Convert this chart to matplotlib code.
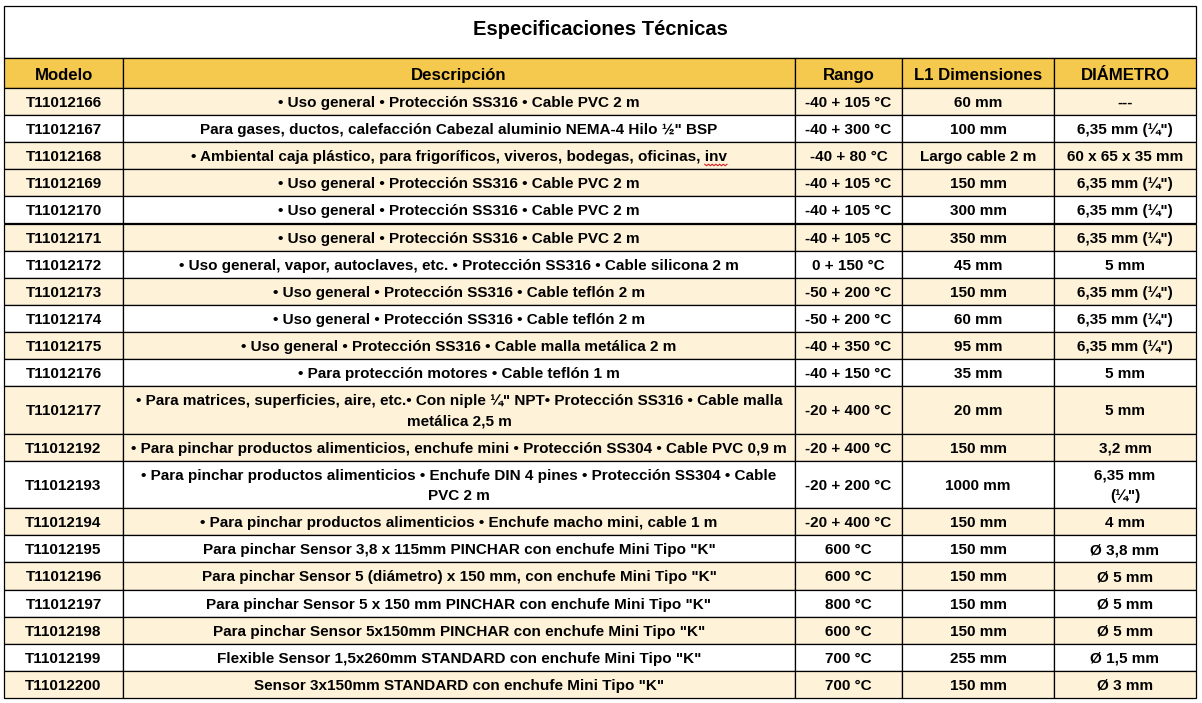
import matplotlib
matplotlib.use("Agg")
import matplotlib.pyplot as plt
from matplotlib.patches import Rectangle
import numpy as np

plt.rcParams['font.family'] = ['Liberation Sans', 'DejaVu Sans']

title = "Especificaciones Técnicas"
headers = ["Modelo", "Descripción", "Rango", "L1 Dimensiones", "DIÁMETRO"]

modelos = ["T11012166", "T11012167", "T11012168", "T11012169", "T11012170",
           "T11012171", "T11012172", "T11012173", "T11012174", "T11012175",
           "T11012176", "T11012177", "T11012192", "T11012193", "T11012194",
           "T11012195", "T11012196", "T11012197", "T11012198", "T11012199",
           "T11012200"]

descripciones = [
    "• Uso general • Protección SS316 • Cable PVC 2 m",
    "Para gases, ductos, calefacción Cabezal aluminio NEMA-4 Hilo ½\" BSP",
    "• Ambiental caja plástico, para frigoríficos, viveros, bodegas, oficinas, inv",
    "• Uso general • Protección SS316 • Cable PVC 2 m",
    "• Uso general • Protección SS316 • Cable PVC 2 m",
    "• Uso general • Protección SS316 • Cable PVC 2 m",
    "• Uso general, vapor, autoclaves, etc. • Protección SS316 • Cable silicona 2 m",
    "• Uso general • Protección SS316 • Cable teflón 2 m",
    "• Uso general • Protección SS316 • Cable teflón 2 m",
    "• Uso general • Protección SS316 • Cable malla metálica 2 m",
    "• Para protección motores • Cable teflón 1 m",
    "• Para matrices, superficies, aire, etc.• Con niple ¼\" NPT• Protección SS316 • Cable malla\nmetálica 2,5 m",
    "• Para pinchar productos alimenticios, enchufe mini • Protección SS304 • Cable PVC 0,9 m",
    "• Para pinchar productos alimenticios • Enchufe DIN 4 pines • Protección SS304 • Cable\nPVC 2 m",
    "• Para pinchar productos alimenticios • Enchufe macho mini, cable 1 m",
    "Para pinchar Sensor 3,8 x 115mm PINCHAR con enchufe Mini Tipo \"K\"",
    "Para pinchar Sensor 5 (diámetro) x 150 mm, con enchufe Mini Tipo \"K\"",
    "Para pinchar Sensor 5 x 150 mm PINCHAR con enchufe Mini Tipo \"K\"",
    "Para pinchar Sensor 5x150mm PINCHAR con enchufe Mini Tipo \"K\"",
    "Flexible Sensor 1,5x260mm STANDARD con enchufe Mini Tipo \"K\"",
    "Sensor 3x150mm STANDARD con enchufe Mini Tipo \"K\"",
]

rangos = ["-40 + 105 °C", "-40 + 300 °C", "-40 + 80 °C", "-40 + 105 °C",
          "-40 + 105 °C", "-40 + 105 °C", "0 + 150 °C", "-50 + 200 °C",
          "-50 + 200 °C", "-40 + 350 °C", "-40 + 150 °C", "-20 + 400 °C",
          "-20 + 400 °C", "-20 + 200 °C", "-20 + 400 °C", "600 °C", "600 °C",
          "800 °C", "600 °C", "700 °C", "700 °C"]

l1_dimensiones = ["60 mm", "100 mm", "Largo cable 2 m", "150 mm", "300 mm",
                  "350 mm", "45 mm", "150 mm", "60 mm", "95 mm", "35 mm",
                  "20 mm", "150 mm", "1000 mm", "150 mm", "150 mm", "150 mm",
                  "150 mm", "150 mm", "255 mm", "150 mm"]

diametros = ["---", "6,35 mm (¼\")", "60 x 65 x 35 mm", "6,35 mm (¼\")",
             "6,35 mm (¼\")", "6,35 mm (¼\")", "5 mm", "6,35 mm (¼\")",
             "6,35 mm (¼\")", "6,35 mm (¼\")", "5 mm", "5 mm", "3,2 mm",
             "6,35 mm\n(¼\")", "4 mm", "Ø 3,8 mm", "Ø 5 mm", "Ø 5 mm", "Ø 5 mm",
             "Ø 1,5 mm", "Ø 3 mm"]

# row shading: True = cream
sombreado = [True, False, True, True, False, True, False, True, False, True,
             False, True, True, False, True, False, True, False, True, False,
             True]

# ---- layout (pixels) ----
W, H = 1202, 703
col_edges = [4, 123, 795, 902, 1054, 1196]
top = 6
title_bottom = 58
header_bottom = 88
h1, h2 = 27.1, 47.5

GOLD = "#F5C84E"
CREAM = "#FEF2D9"
LW = 0.9
FS_BODY, FS_HEAD, FS_TITLE = 11.0, 12.1, 14.5
LINE_GAP = 20

fig = plt.figure(figsize=(W / 100, H / 100), dpi=100)
ax = fig.add_axes([0, 0, 1, 1])
ax.set_xlim(0, W)
ax.set_ylim(H, 0)
ax.axis("off")


def cap_px(fs):
    return 0.716 * fs * 100 / 72


def put(xc, yc, s, fs):
    lines = s.split("\n")
    n = len(lines)
    objs = []
    for k, ln in enumerate(lines):
        yb = yc + (k - (n - 1) / 2) * LINE_GAP + cap_px(fs) / 2
        objs.append(ax.text(xc, yb, ln, ha="center", va="baseline",
                            fontsize=fs, fontweight="bold"))
    return objs


left, right = col_edges[0], col_edges[-1]

# title box
ax.add_patch(Rectangle((left, top), right - left, title_bottom - top,
                       facecolor="white", edgecolor="black", lw=LW))
put((left + right) / 2, 28, title, FS_TITLE)

# header row
for i in range(len(headers)):
    x0, x1 = col_edges[i], col_edges[i + 1]
    ax.add_patch(Rectangle((x0, title_bottom), x1 - x0, header_bottom - title_bottom,
                           facecolor=GOLD, edgecolor="black", lw=LW))
    put((x0 + x1) / 2, (title_bottom + header_bottom) / 2 + 0.5, headers[i], FS_HEAD)

# data rows
y = header_bottom
squiggle_target = None
for r in range(len(modelos)):
    vals = [modelos[r], descripciones[r], rangos[r], l1_dimensiones[r], diametros[r]]
    nlines = max(v.count("\n") + 1 for v in vals)
    rh = h1 if nlines == 1 else h2
    fc = CREAM if sombreado[r] else "white"
    for i, v in enumerate(vals):
        x0, x1 = col_edges[i], col_edges[i + 1]
        ax.add_patch(Rectangle((x0, y), x1 - x0, rh, facecolor=fc,
                               edgecolor="black", lw=LW))
        objs = put((x0 + x1) / 2, y + rh / 2, v, FS_BODY)
        if i == 1 and v.endswith(" inv"):
            squiggle_target = (objs[0], y + rh / 2)
    y += rh

# spell-check squiggle under the truncated word "inv"
if squiggle_target is not None:
    t, yc = squiggle_target
    fig.canvas.draw()
    r_ = fig.canvas.get_renderer()
    bb = t.get_window_extent(r_)
    tmp = ax.text(0, 0, "inv", fontsize=FS_BODY, fontweight="bold")
    wb = tmp.get_window_extent(r_).width
    tmp.remove()
    xs_end = bb.x1
    xs_start = xs_end - wb
    xs = np.linspace(xs_start, xs_end, 13)
    ys = yc + cap_px(FS_BODY) / 2 + 3 + np.array([0, 1.5] * 7)[:13]
    ax.plot(xs, ys, color="#D02020", lw=0.8)

fig.savefig("out.png", dpi=100)
